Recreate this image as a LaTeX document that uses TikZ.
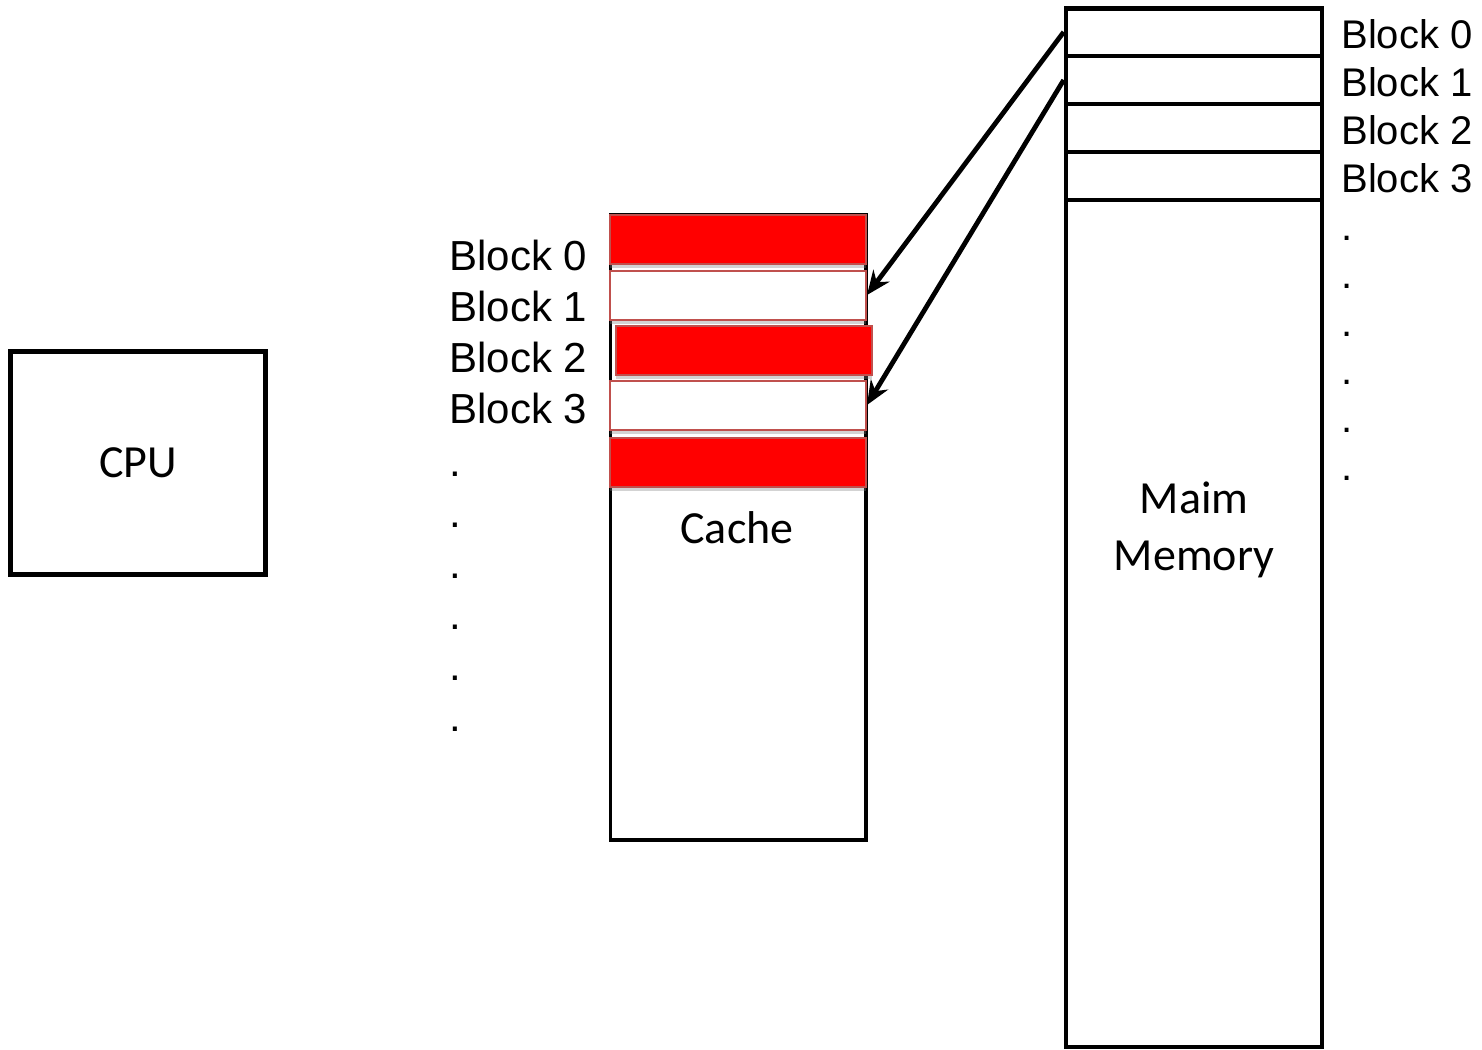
\documentclass[tikz,border=0pt]{standalone}
\usepackage{fontspec}
\setmainfont{Liberation Sans}
\newfontfamily\calibri{Carlito}
\usetikzlibrary{arrows.meta,shadows}
\definecolor{slotred}{HTML}{C0504D}

\begin{document}
\begin{tikzpicture}[x=0.5pt, y=-0.5pt, >={Stealth[length=12pt,width=10pt]},
    box/.style = {draw, line width=2.3pt, inner sep=0pt},
    slot/.style = {draw=slotred, line width=1pt, inner sep=0pt,
      minimum width=128pt, minimum height=24.5pt,
      drop shadow={opacity=0.35, shadow xshift=0pt, shadow yshift=-2pt}},
    memrow/.style = {draw, line width=2.3pt, inner sep=0pt,
      minimum width=128pt, minimum height=24pt},
    lbl/.style = {font=\fontsize{20}{24}\selectfont, anchor=base west, inner sep=0pt},
    title/.style = {font=\calibri\fontsize{23}{28.5}\selectfont, align=center, inner sep=0pt}]
  \useasboundingbox (0,0) rectangle (1482,1049);

  % processor
  \node[box, minimum width=127.5pt, minimum height=111.5pt, title] (cpu) at (138,463) {CPU};

  % cache with its slots
  \node[box, line width=1.8pt, minimum width=127.75pt, minimum height=312.5pt] (cache) at (738.25,527.5) {};
  \node[slot, fill=red]   (c0) at (738,239.5) {};
  \node[slot, fill=white] (c1) at (738,295) {};
  \node[slot, fill=red]   (c2) at (743.5,350) {};
  \node[slot, fill=white] (c3) at (738,405) {};
  \node[slot, fill=red]   (c4) at (738,462.5) {};
  \node[title, anchor=base] (cachetxt) at (737,543) {Cache};
  \foreach \i in {0,...,3}
    \node[lbl, font=\fontsize{21}{25}\selectfont] (cl\i) at (449,{270+51*\i}) {Block \i};
  \foreach \i in {4,...,9}
    \node[lbl, font=\fontsize{21}{25}\selectfont] (cd\i) at (449,{272+51*\i}) {.};

  % main memory
  \node[box, minimum width=128pt, minimum height=519pt] (mem) at (1194,528) {};
  \foreach \i in {0,...,3}
    \node[memrow] (m\i) at (1194,{32+48*\i}) {};
  \node[title] (memtxt) at (1194,530) {Maim\\Memory};
  \foreach \i in {0,...,3}
    \node[lbl] (ml\i) at (1341,{48+48*\i}) {Block \i};
  \foreach \i in {4,...,9}
    \node[lbl] (md\i) at (1341,{48+48*\i}) {.};

  % block mapping
  \draw[->, line width=2.4pt] (m0.west) -- (c1.east);
  \draw[->, line width=2.4pt] (m1.west) -- (c3.east);
\end{tikzpicture}
\end{document}
